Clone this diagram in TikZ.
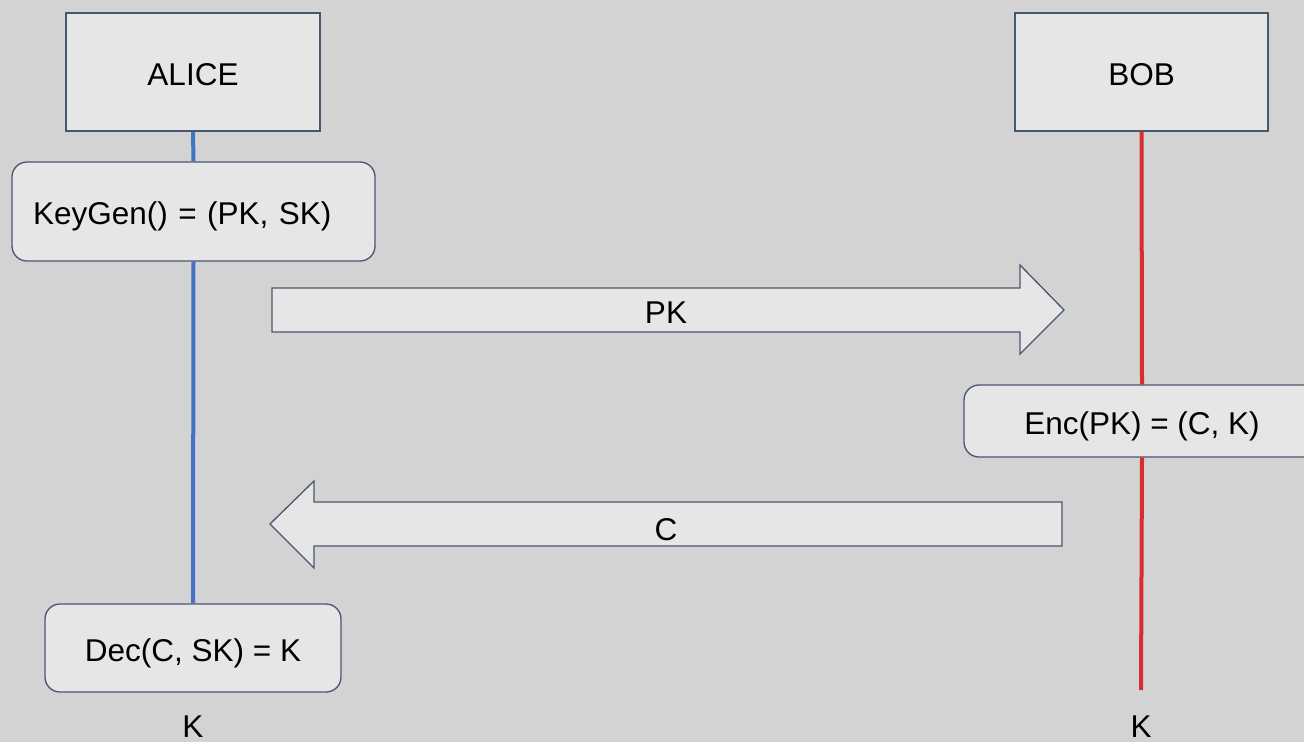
\documentclass[tikz,border=0pt]{standalone}
\usepackage{fontspec}
\setmainfont{Liberation Sans}
\definecolor{pagebg}{RGB}{211,211,211}
\definecolor{boxfill}{RGB}{230,230,230}
\definecolor{boxline}{RGB}{72,87,112}
\definecolor{alicecol}{RGB}{68,114,196}
\definecolor{bobcol}{RGB}{217,45,45}
\tikzset{
  txt/.style={text height=26pt, text depth=0pt},
  party/.style={txt, draw=boxline, fill=boxfill, line width=1.3pt, rectangle,
    minimum width=254pt, minimum height=118pt, inner sep=0pt},
  stepbox/.style={txt, draw=boxline, fill=boxfill, line width=1.3pt, rectangle,
    rounded corners=15pt, inner sep=0pt},
  msg/.style={draw=boxline, fill=boxfill, line width=1.3pt, line join=miter},
  life/.style={line width=4pt},
  lbl/.style={txt, inner sep=0pt}
}
\begin{document}
\begin{tikzpicture}[x=1pt,y=-1pt,font=\fontsize{31.5}{38}\selectfont]
\useasboundingbox (0,0) rectangle (1304,742);
\fill[pagebg] (0,0) rectangle (1304,742);

% party headers
\node[party] (alice) at (193,72) {ALICE};
\node[party, minimum width=253pt] (bob) at (1141.5,72) {BOB};

% computation steps
\node[stepbox, minimum width=363pt, minimum height=99pt, text width=321pt,
      inner xsep=21pt, align=left] (keygen) at (193.5,211.5) {KeyGen() = (PK, SK)};
\node[stepbox, minimum width=356pt, minimum height=72pt] (enc) at (1142,421) {Enc(PK) = (C, K)};
\node[stepbox, minimum width=296pt, minimum height=88pt] (dec) at (193,648) {Dec(C, SK) = K};

% final outputs
\node[lbl] (ka) at (193,724) {K};
\node[lbl] (kb) at (1141,724) {K};
\coordinate (bobend) at (1141,690);

% lifelines between the boxes
\draw[life, alicecol] (alice.south) -- (keygen.north);
\draw[life, alicecol] (keygen.south) -- (dec.north);
\draw[life, bobcol] (bob.south) -- (enc.north);
\draw[life, bobcol] (enc.south) -- (bobend);

% messages
\draw[msg] (272,288) -- (1020,288) -- (1020,265) -- (1064,310)
  -- (1020,354) -- (1020,332) -- (272,332) -- cycle;
\node[lbl] (pk) at (666,310) {PK};

\draw[msg] (1062,502) -- (314,502) -- (314,481) -- (270,524)
  -- (314,568) -- (314,546) -- (1062,546) -- cycle;
\node[lbl] (c) at (666,527) {C};
\end{tikzpicture}
\end{document}
